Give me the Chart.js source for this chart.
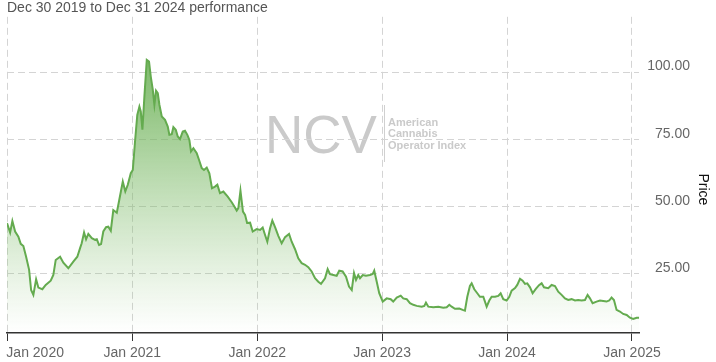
<!DOCTYPE html>
<html>
<head>
<meta charset="utf-8">
<script src="https://cdn.jsdelivr.net/npm/chart.js@4/dist/chart.umd.min.js"></script>
<style>
  html, body { margin: 0; padding: 0; background: #fff; }
  #wrap { width: 716px; height: 362px; }
</style>
</head>
<body>
<div id="wrap"><canvas id="chart" width="716" height="362"></canvas></div>
<script>
// dates as decimal years
const years = [
  2019.997, 2020.022, 2020.040, 2020.062, 2020.088, 2020.107, 2020.128, 2020.150, 2020.174, 2020.190,
  2020.208, 2020.230, 2020.248, 2020.280, 2020.307, 2020.347, 2020.368, 2020.387, 2020.422, 2020.448,
  2020.488, 2020.528, 2020.560, 2020.582, 2020.595, 2020.614, 2020.630, 2020.648, 2020.676, 2020.702,
  2020.716, 2020.734, 2020.750, 2020.768, 2020.790, 2020.808, 2020.828, 2020.848, 2020.876, 2020.896,
  2020.924, 2020.944, 2020.964, 2020.988, 2021.004, 2021.022, 2021.040, 2021.057, 2021.068, 2021.081,
  2021.097, 2021.116, 2021.134, 2021.148, 2021.164, 2021.177, 2021.190, 2021.204, 2021.217, 2021.236,
  2021.262, 2021.284, 2021.297, 2021.316, 2021.329, 2021.348, 2021.364, 2021.382, 2021.404, 2021.422,
  2021.441, 2021.457, 2021.470, 2021.489, 2021.516, 2021.534, 2021.556, 2021.574, 2021.596, 2021.617,
  2021.638, 2021.662, 2021.681, 2021.702, 2021.729, 2021.764, 2021.796, 2021.817, 2021.836, 2021.849,
  2021.866, 2021.886, 2021.903, 2021.919, 2021.943, 2021.964, 2021.996, 2022.023, 2022.044, 2022.063,
  2022.081, 2022.103, 2022.121, 2022.143, 2022.169, 2022.196, 2022.223, 2022.255, 2022.276, 2022.303,
  2022.329, 2022.356, 2022.383, 2022.409, 2022.436, 2022.463, 2022.489, 2022.511, 2022.543, 2022.564,
  2022.583, 2022.609, 2022.636, 2022.657, 2022.684, 2022.711, 2022.735, 2022.757, 2022.775, 2022.791,
  2022.809, 2022.823, 2022.845, 2022.871, 2022.903, 2022.925, 2022.937, 2022.957, 2022.977, 2023.005,
  2023.037, 2023.069, 2023.089, 2023.117, 2023.149, 2023.169, 2023.197, 2023.223, 2023.250, 2023.277,
  2023.317, 2023.338, 2023.351, 2023.370, 2023.410, 2023.450, 2023.490, 2023.517, 2023.538, 2023.557,
  2023.583, 2023.618, 2023.645, 2023.663, 2023.682, 2023.703, 2023.717, 2023.738, 2023.762, 2023.783,
  2023.810, 2023.837, 2023.858, 2023.877, 2023.904, 2023.930, 2023.949, 2023.970, 2023.997, 2024.018,
  2024.037, 2024.064, 2024.082, 2024.104, 2024.125, 2024.144, 2024.162, 2024.184, 2024.205, 2024.229,
  2024.256, 2024.277, 2024.296, 2024.330, 2024.357, 2024.384, 2024.410, 2024.437, 2024.464, 2024.490,
  2024.517, 2024.544, 2024.570, 2024.597, 2024.624, 2024.645, 2024.664, 2024.685, 2024.717, 2024.744,
  2024.770, 2024.797, 2024.818, 2024.837, 2024.856, 2024.877, 2024.904, 2024.930, 2024.958, 2024.984,
  2025.010, 2025.038, 2025.058
];

const prices = [
  43.9, 40.4, 44.7, 40.8, 38.9, 36.2, 35.4, 31.4, 26.5, 19.0,
  17.2, 23.0, 19.9, 19.3, 20.9, 22.5, 24.6, 30.2, 31.4, 29.2,
  27.1, 29.6, 31.4, 34.6, 36.4, 40.4, 37.9, 39.9, 38.3, 37.7,
  37.9, 35.8, 36.1, 40.8, 42.4, 42.6, 41.1, 48.8, 47.8, 52.6,
  59.4, 55.7, 58.2, 62.5, 63.7, 74.3, 84.2, 87.3, 85.5, 78.7,
  91.1, 104.7, 104.1, 98.5, 93.6, 88.0, 93.2, 92.3, 88.0, 83.6,
  82.4, 79.9, 76.8, 77.0, 79.7, 78.7, 76.2, 75.2, 78.0, 78.3,
  76.8, 74.9, 70.6, 71.8, 70.0, 67.5, 64.4, 63.7, 64.6, 62.5,
  56.9, 57.5, 58.2, 55.1, 55.7, 53.8, 51.7, 50.1, 48.6, 49.5,
  56.0, 48.2, 47.0, 44.0, 44.1, 40.8, 41.7, 41.4, 42.3, 39.5,
  37.0, 42.0, 44.9, 42.4, 39.2, 36.4, 38.7, 39.9, 37.0, 34.2,
  30.8, 29.0, 28.4, 27.5, 25.9, 23.4, 22.1, 21.3, 23.4, 26.8,
  24.9, 24.6, 24.3, 26.2, 25.9, 24.0, 20.3, 19.0, 25.3, 22.8,
  24.6, 23.4, 24.6, 24.3, 24.6, 25.0, 26.2, 22.1, 17.8, 14.7,
  15.9, 15.6, 14.7, 16.2, 16.9, 15.9, 15.6, 14.1, 13.5, 13.1,
  12.8, 13.1, 14.3, 12.8, 12.6, 12.8, 12.4, 12.6, 13.5, 12.8,
  12.0, 12.1, 11.6, 11.3, 16.5, 20.5, 21.5, 19.3, 17.8, 16.5,
  16.5, 12.8, 15.1, 16.5, 16.5, 16.8, 17.8, 15.6, 15.1, 16.5,
  18.8, 19.7, 20.9, 23.2, 22.5, 21.3, 21.5, 20.0, 17.8, 19.3,
  20.8, 21.5, 20.0, 19.7, 20.9, 20.5, 18.4, 17.2, 15.9, 15.3,
  15.6, 15.1, 15.3, 15.1, 15.3, 17.2, 15.9, 14.1, 14.7, 15.1,
  14.9, 14.7, 15.1, 16.2, 15.3, 11.6, 11.0, 10.1, 9.7, 8.7,
  8.2, 8.7, 8.7
];

const xTickYears = [2020, 2021, 2022, 2023, 2024, 2025];
const xTickLabels = ['Jan 2020', 'Jan 2021', 'Jan 2022', 'Jan 2023', 'Jan 2024', 'Jan 2025'];
const yTicks = [25, 50, 75, 100];
const titleText = 'Dec 30 2019 to Dec 31 2024 performance';
const yTitle = 'Price';
const watermarkBig = 'NCV';
const watermarkSmall = ['American', 'Cannabis', 'Operator Index'];

const FONT = "'Liberation Sans', Arial, sans-serif";
Chart.defaults.font.family = FONT;
Chart.defaults.font.size = 14;

// watermark behind the grid
const watermark = {
  id: 'watermark',
  beforeDraw(chart) {
    const ctx = chart.ctx;
    ctx.save();
    ctx.fillStyle = '#cacaca';
    ctx.font = '53px ' + FONT;
    ctx.textAlign = 'left';
    ctx.textBaseline = 'alphabetic';
    ctx.fillText(watermarkBig, 265, 153);
    ctx.strokeStyle = '#d0d0d0';
    ctx.lineWidth = 1;
    ctx.beginPath();
    ctx.moveTo(384.5, 105);
    ctx.lineTo(384.5, 162);
    ctx.stroke();
    ctx.font = 'bold 11px ' + FONT;
    watermarkSmall.forEach((s, i) => ctx.fillText(s, 388, 125.5 + i * 11.5));
    ctx.restore();
  }
};

// x labels (first one starts at its tick, the rest centred) and the y title
const axisText = {
  id: 'axisText',
  afterDraw(chart) {
    const ctx = chart.ctx;
    const xs = chart.scales.x;
    const ys = chart.scales.y;
    ctx.save();
    ctx.fillStyle = '#666';
    ctx.font = '14px ' + FONT;
    ctx.textBaseline = 'alphabetic';
    xs.ticks.forEach((t, i) => {
      const px = xs.getPixelForValue(t.value);
      ctx.textAlign = i === 0 ? 'left' : 'center';
      ctx.fillText(xTickLabels[xTickYears.indexOf(t.value)], i === 0 ? px - 1 : px, 357);
    });
    ctx.translate(ys.right + 13, ys.getPixelForValue(56.5));
    ctx.rotate(Math.PI / 2);
    ctx.textAlign = 'center';
    ctx.textBaseline = 'middle';
    ctx.fillStyle = '#111';
    ctx.fillText(yTitle, 0, 0);
    ctx.restore();
  }
};

const ctx = document.getElementById('chart').getContext('2d');
new Chart(ctx, {
  type: 'line',
  data: {
    datasets: [{
      data: years.map((y, i) => ({ x: y, y: prices[i] })),
      borderColor: '#64ab4f',
      borderWidth: 2,
      pointRadius: 0,
      tension: 0,
      fill: 'start',
      backgroundColor: (c) => {
        const area = c.chart.chartArea;
        if (!area) return 'rgba(103,173,82,0.4)';
        const g = c.chart.ctx.createLinearGradient(0, area.top, 0, area.bottom);
        g.addColorStop(0, 'rgba(100,172,78,0.95)');
        g.addColorStop(0.3, 'rgba(110,178,88,0.72)');
        g.addColorStop(1, 'rgba(140,195,120,0.0)');
        return g;
      }
    }]
  },
  options: {
    responsive: false,
    animation: false,
    layout: { padding: { left: 7, right: 26, top: 0, bottom: 21 } },
    plugins: {
      legend: { display: false },
      tooltip: { enabled: false },
      title: {
        display: true,
        text: titleText,
        align: 'start',
        color: '#555',
        font: { size: 14, weight: 'normal' },
        padding: { top: 0, bottom: 0 }
      }
    },
    scales: {
      x: {
        type: 'linear',
        min: 2019.997,
        max: 2025.058,
        afterBuildTicks: (axis) => { axis.ticks = xTickYears.map(v => ({ value: v })); },
        ticks: { display: false },
        grid: {
          color: '#d4d4d4',
          drawTicks: true,
          tickLength: 8,
          tickColor: '#333',
          tickWidth: 1
        },
        border: { display: true, color: '#333', width: 1.5, dash: [7, 4] }
      },
      y: {
        type: 'linear',
        position: 'right',
        min: 3,
        max: 120.75,
        afterBuildTicks: (axis) => { axis.ticks = yTicks.map(v => ({ value: v })); },
        ticks: {
          color: '#666',
          padding: 4,
          crossAlign: 'far',
          labelOffset: -6,
          callback: (v) => v.toFixed(2)
        },
        grid: { color: '#d4d4d4', drawTicks: false },
        border: { display: false, dash: [7, 4] }
      }
    }
  },
  plugins: [watermark, axisText]
});
</script>
</body>
</html>
